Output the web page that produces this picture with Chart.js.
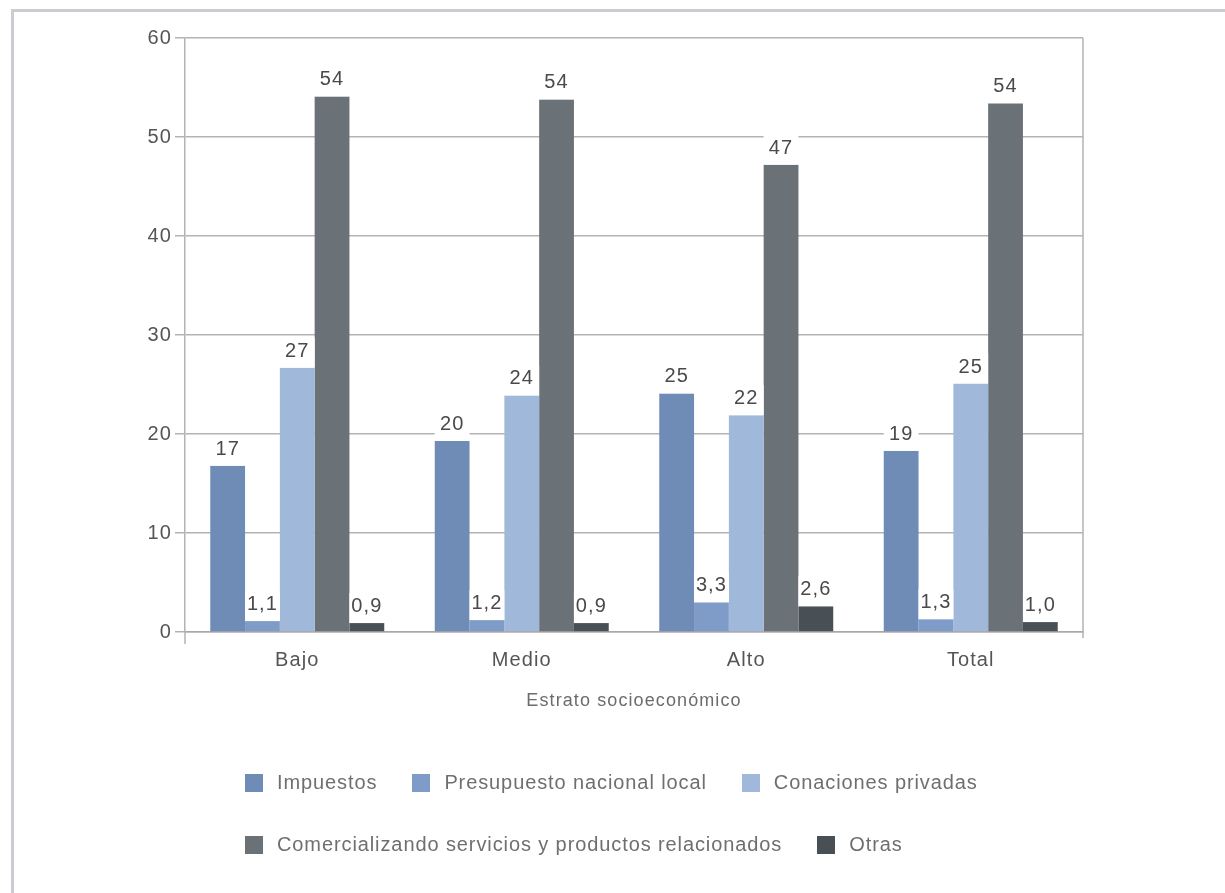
<!DOCTYPE html>
<html>
<head>
<meta charset="utf-8">
<script src="https://cdn.jsdelivr.net/npm/chart.js@4.4.0/dist/chart.umd.min.js"></script>
<style>
  html, body { margin: 0; padding: 0; background: #fff; overflow: hidden; }
  #wrap { position: relative; width: 1225px; height: 893px; }
  #frame { position: absolute; left: 11px; top: 9px; width: 1300px; height: 1000px;
           border-left: 3px solid #c9cdd1; border-top: 3px solid #c9cdd1; }
  canvas { position: absolute; left: 0; top: 0; }
  .legend-row { position: absolute; left: 245px; display: flex; align-items: center;
                font-family: "Liberation Sans", Arial, sans-serif; font-size: 20px;
                color: #6f6f6f; letter-spacing: 0.9px; }
  .legend-item { display: flex; align-items: center; margin-right: 35px; }
  .legend-box { width: 18px; height: 18px; margin-right: 14px; }
</style>
</head>
<body>
<div id="wrap">
  <div id="frame"></div>
  <canvas id="myChart" width="1225" height="893"></canvas>
  <div class="legend-row" id="row1" style="top:771px"></div>
  <div class="legend-row" id="row2" style="top:833px"></div>
</div>
<script>
// categorias
var categorias = ["Bajo", "Medio", "Alto", "Total"];

// valores de las barras
var impuestos = [16.8, 19.3, 24.1, 18.3];
var presupuesto = [1.1, 1.2, 3.0, 1.3];
var donaciones = [26.7, 23.9, 21.9, 25.1];
var comercializando = [54.1, 53.8, 47.2, 53.4];
var otras = [0.9, 0.9, 2.6, 1.0];

// etiquetas que se muestran encima de cada barra
var etqImpuestos = ["17", "20", "25", "19"];
var etqPresupuesto = ["1,1", "1,2", "3,3", "1,3"];
var etqDonaciones = ["27", "24", "22", "25"];
var etqComercializando = ["54", "54", "47", "54"];
var etqOtras = ["0,9", "0,9", "2,6", "1,0"];

var ticksY = [0, 10, 20, 30, 40, 50, 60];

var FONT = '"Liberation Sans", Arial, sans-serif';

var series = [
    { label: "Impuestos", data: impuestos, etiquetas: etqImpuestos, color: "#6e8cb6" },
    { label: "Presupuesto nacional local", data: presupuesto, etiquetas: etqPresupuesto, color: "#7f9cc8" },
    { label: "Conaciones privadas", data: donaciones, etiquetas: etqDonaciones, color: "#a0b8da" },
    { label: "Comercializando servicios y productos relacionados", data: comercializando, etiquetas: etqComercializando, color: "#6b7277" },
    { label: "Otras", data: otras, etiquetas: etqOtras, color: "#495055" }
];

// el texto del original es mas ancho: un poco de espaciado entre letras
var espaciadoPlugin = {
    id: "espaciado",
    beforeDraw: function(chart) {
        chart.ctx.letterSpacing = "1.1px";
    }
};

// etiquetas de valor con fondo blanco del ancho de la barra
var etiquetasPlugin = {
    id: "etiquetas",
    afterDatasetsDraw: function(chart) {
        var ctx = chart.ctx;
        ctx.save();
        ctx.font = "20px " + FONT;
        ctx.textAlign = "center";
        ctx.textBaseline = "alphabetic";
        chart.data.datasets.forEach(function(ds, i) {
            chart.getDatasetMeta(i).data.forEach(function(bar, j) {
                var txt = ds.etiquetas[j];
                var w = bar.width;
                ctx.fillStyle = "#ffffff";
                ctx.fillRect(bar.x - w / 2, bar.y - 30, w, 30);
                ctx.fillStyle = "#4a4a4a";
                ctx.fillText(txt, bar.x, bar.y - 11);
            });
        });
        ctx.restore();
    }
};

// linea vertical del lado derecho del area
var marcoPlugin = {
    id: "marco",
    afterDraw: function(chart) {
        var a = chart.chartArea, ctx = chart.ctx;
        ctx.save();
        ctx.strokeStyle = "#b4b4b4";
        ctx.lineWidth = 1.5;
        ctx.beginPath();
        ctx.moveTo(a.right, a.top);
        ctx.lineTo(a.right, a.bottom + 6);
        ctx.moveTo(a.left, a.bottom);
        ctx.lineTo(a.left, a.bottom + 12);
        ctx.stroke();
        ctx.restore();
    }
};

var ctx = document.getElementById("myChart").getContext("2d");
new Chart(ctx, {
    type: "bar",
    data: {
        labels: categorias,
        datasets: series.map(function(s) {
            return {
                label: s.label,
                data: s.data,
                etiquetas: s.etiquetas,
                backgroundColor: s.color,
                borderWidth: 0,
                categoryPercentage: 0.775,
                barPercentage: 1.0
            };
        })
    },
    options: {
        responsive: false,
        animation: false,
        layout: { padding: { left: 125, top: 38, right: 142, bottom: 177 } },
        plugins: {
            legend: { display: false },
            tooltip: { enabled: false }
        },
        scales: {
            x: {
                afterFit: function(scale) { scale.height = 84; },
                grid: { display: false, drawTicks: false },
                border: { display: true, color: "#a8a8a8", width: 1.5 },
                ticks: { color: "#555", padding: 16, font: { size: 20, family: FONT } },
                title: { display: true, text: "Estrato socioeconómico", color: "#6c6c6c",
                         font: { size: 18, family: FONT } }
            },
            y: {
                min: 0,
                max: 60,
                afterFit: function(scale) { scale.width = 60; },
                afterBuildTicks: function(scale) {
                    scale.ticks = ticksY.map(function(v) { return { value: v }; });
                },
                grid: { color: "#b3b3b3", lineWidth: 1.5, tickLength: 10 },
                border: { display: true, color: "#b3b3b3", width: 1.5 },
                ticks: { color: "#555", padding: 3, font: { size: 20, family: FONT } }
            }
        }
    },
    plugins: [espaciadoPlugin, etiquetasPlugin, marcoPlugin]
});

// leyenda en dos filas como en el original
function armarFila(id, items) {
    var fila = document.getElementById(id);
    items.forEach(function(s) {
        var item = document.createElement("div");
        item.className = "legend-item";
        var caja = document.createElement("span");
        caja.className = "legend-box";
        caja.style.background = s.color;
        var txt = document.createElement("span");
        txt.textContent = s.label;
        item.appendChild(caja);
        item.appendChild(txt);
        fila.appendChild(item);
    });
}
armarFila("row1", series.slice(0, 3));
armarFila("row2", series.slice(3));
</script>
</body>
</html>
